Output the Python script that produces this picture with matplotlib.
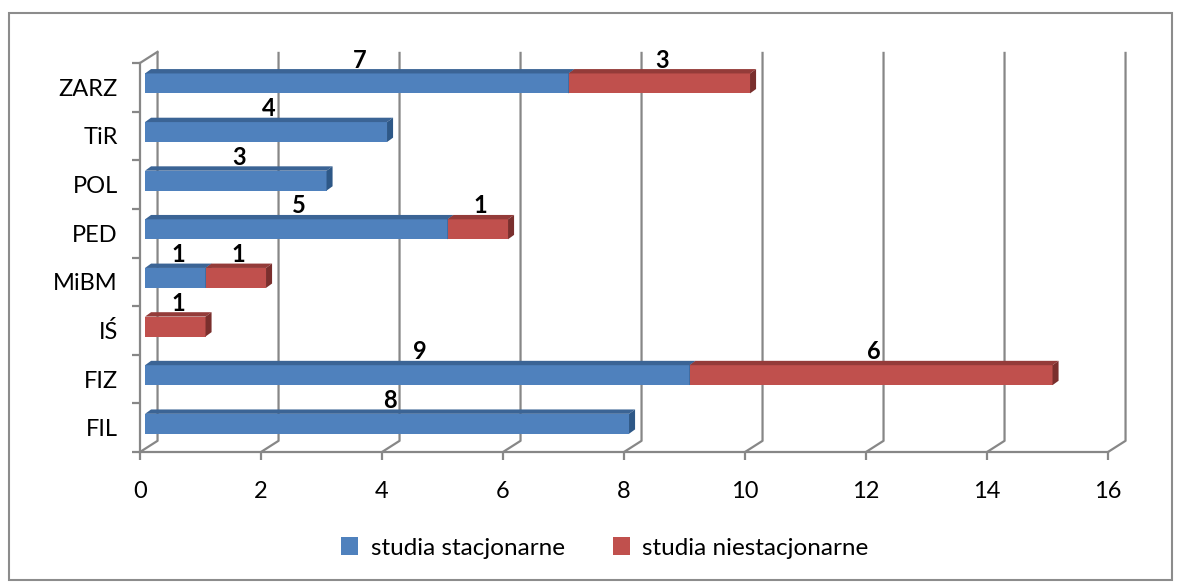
import matplotlib.pyplot as plt
import numpy as np
from matplotlib.patches import Polygon, Rectangle

plt.rcParams['font.family'] = ['Lato', 'DejaVu Sans']

categories = ['FIL', 'FIZ', 'IŚ', 'MiBM', 'PED', 'POL', 'TiR', 'ZARZ']
stacjonarne = [8, 9, 0, 1, 5, 3, 4, 7]
niestacjonarne = [0, 6, 1, 1, 1, 0, 0, 3]
series_names = ['studia stacjonarne', 'studia niestacjonarne']
xticks = [0, 2, 4, 6, 8, 10, 12, 14, 16]

front = ['#4F81BD', '#C0504D']
top = ['#3B6495', '#943B39']
side = ['#2E5887', '#7A2F2D']
grid_c = '#878787'

W, H = 1181, 584
fig = plt.figure(figsize=(W / 100, H / 100), dpi=100)
ax = fig.add_axes([140 / W, (H - 452) / H, 968 / W, 389 / H])
ax.set_xlim(0, 16)
ax.set_ylim(-0.5, len(categories) - 0.5)

# 3d offsets (data units)
wdx, wdy = 0.29, 0.23     # back wall
bx = 0.083                # bar shift off the wall
bdx, bdy = 0.1, 0.09      # bar depth
bh = 0.41                 # bar height
boff = 0.08               # bar raised a bit

y0, y1 = -0.5, len(categories) - 0.5
# back wall gridlines + floor diagonals
for v in xticks:
    ax.plot([v + wdx, v + wdx, v], [y1 + wdy, y0 + wdy, y0], color=grid_c, lw=1.6,
            zorder=1, clip_on=False, solid_capstyle='butt')
# left wall top diagonal
ax.plot([0, wdx], [y1, y1 + wdy], color=grid_c, lw=1.6, clip_on=False, zorder=1)

# bars
for i, cat in enumerate(categories):
    left = 0
    yc = i + boff
    ya, yb = yc - bh / 2, yc + bh / 2
    for s, vals in enumerate([stacjonarne, niestacjonarne]):
        v = vals[i]
        if v == 0:
            continue
        xa, xb = left + bx, left + v + bx
        z = 3 + s
        ax.add_patch(Rectangle((xa, ya), v, bh, facecolor=front[s], edgecolor='none',
                               zorder=z, clip_on=False))
        ax.add_patch(Polygon([(xa, yb), (xb, yb), (xb + bdx, yb + bdy), (xa + bdx, yb + bdy)],
                             closed=True, facecolor=top[s], edgecolor='none', zorder=z,
                             clip_on=False))
        ax.add_patch(Polygon([(xb, ya), (xb, yb), (xb + bdx, yb + bdy), (xb + bdx, ya + bdy)],
                             closed=True, facecolor=side[s], edgecolor='none', zorder=z,
                             clip_on=False))
        ax.text(left + v / 2 + bx + 0.05, i + 0.56, str(v), ha='center', va='center',
                fontsize=17, fontweight='bold', color='black', zorder=10)
        left += v

# axes
for sp in ['top', 'right']:
    ax.spines[sp].set_visible(False)
for sp in ['left', 'bottom']:
    ax.spines[sp].set_color(grid_c)
    ax.spines[sp].set_linewidth(1.6)
ax.set_xticks(xticks)
ax.set_xticklabels([str(t) for t in xticks], fontsize=17)
ax.tick_params(axis='x', length=6, width=1.6, color=grid_c, pad=15)
ax.set_yticks(range(len(categories)))
ax.set_yticklabels(categories, fontsize=17)
ax.set_yticks(np.arange(-0.5, len(categories), 1), minor=True)
ax.tick_params(axis='y', which='major', length=0, pad=16)
ax.tick_params(axis='y', which='minor', length=6, width=1.6, color=grid_c)
ax.set_facecolor('none')

# legend
handles = [Rectangle((0, 0), 1, 1, facecolor=c, edgecolor='none') for c in front]
fig.legend(handles, series_names, loc='center', bbox_to_anchor=(605 / W, 1 - 548 / H),
           ncol=2, frameon=False, fontsize=17.5, handlelength=0.7, handleheight=0.7,
           handletextpad=0.5, columnspacing=2.0)

# chart border
fig.patches.append(Rectangle((9 / W, 4 / H), 1163 / W, 567 / H, transform=fig.transFigure,
                             fill=False, edgecolor='#8C8C8C', lw=1.5))

fig.savefig('out.png', dpi=100)
